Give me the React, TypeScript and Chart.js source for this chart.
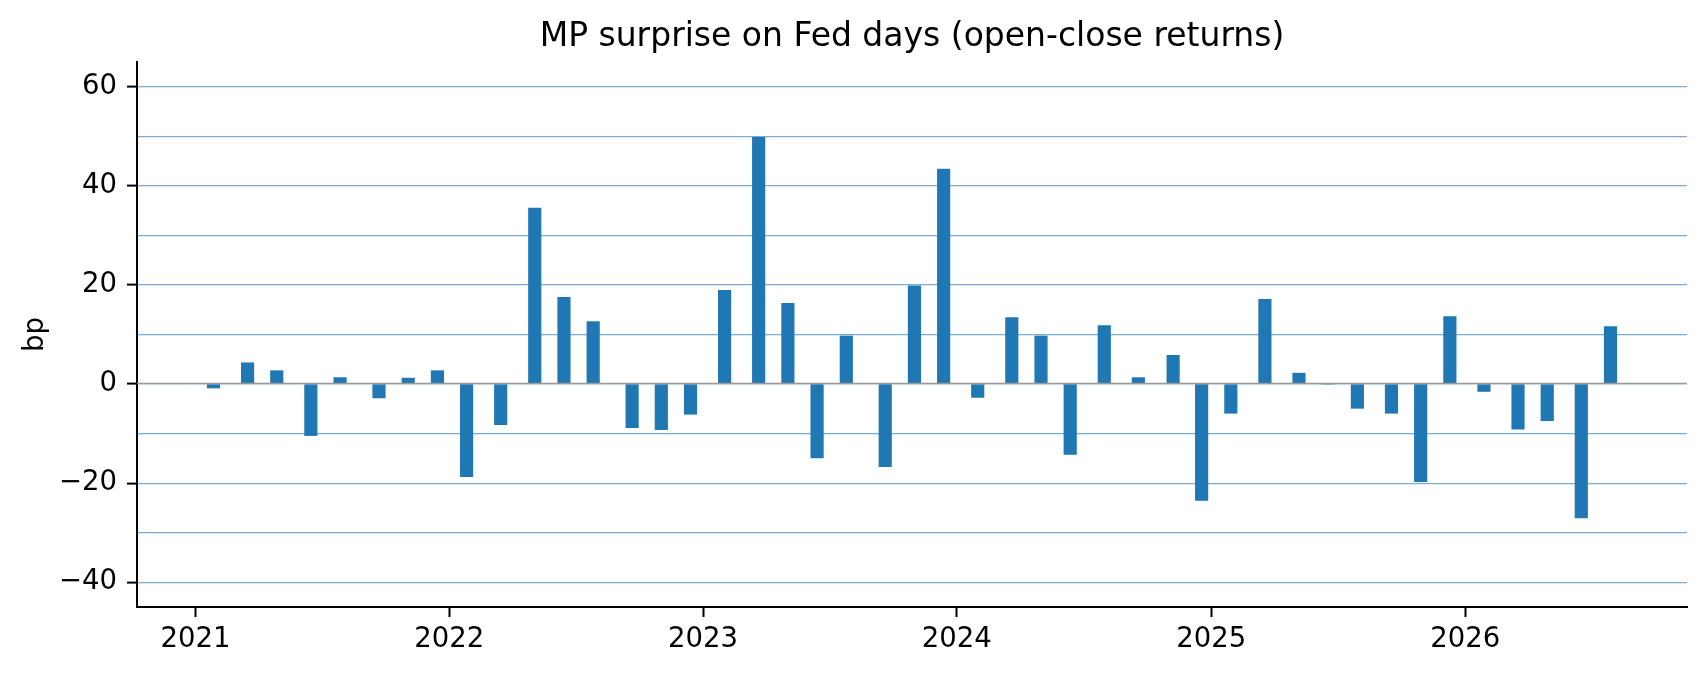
import React, { useEffect, useRef } from "react";
import { Chart, registerables, Plugin } from "chart.js";

Chart.register(...registerables);

const TITLE = "MP surprise on Fed days (open-close returns)";

// FOMC announcement days
const meetingDates: string[] = [
  "2021-01-27", "2021-03-17", "2021-04-28", "2021-06-16", "2021-07-28", "2021-09-22", "2021-11-03", "2021-12-15",
  "2022-01-26", "2022-03-16", "2022-05-04", "2022-06-15", "2022-07-27", "2022-09-21", "2022-11-02", "2022-12-14",
  "2023-02-01", "2023-03-22", "2023-05-03", "2023-06-14", "2023-07-26", "2023-09-20", "2023-11-01", "2023-12-13",
  "2024-01-31", "2024-03-20", "2024-05-01", "2024-06-12", "2024-07-31", "2024-09-18", "2024-11-07", "2024-12-18",
  "2025-01-29", "2025-03-19", "2025-05-07", "2025-06-18", "2025-07-30", "2025-09-17", "2025-10-29", "2025-12-10",
  "2026-01-28", "2026-03-18", "2026-04-29", "2026-06-17", "2026-07-29",
];

// open-close surprise, bp
const surpriseBp: number[] = [
  -0.8, 4.3, 2.7, -10.4, 1.3, -2.8, 1.2, 2.7,
  -18.7, -8.2, 35.5, 17.5, 12.6, -8.8, -9.2, -6.1,
  18.9, 49.8, 16.3, -14.9, 9.7, -16.7, 19.8, 43.4,
  -2.7, 13.4, 9.7, -14.2, 11.8, 1.3, 5.8, -23.5,
  -5.9, 17.1, 2.2, 0, -4.9, -5.9, -19.7, 13.6,
  -1.5, -9.1, -7.4, -27.0, 11.6,
];

const yearTicks: number[] = [2021, 2022, 2023, 2024, 2025, 2026];
// gridlines every 10, labels every 20
const yGridValues: number[] = [-40, -30, -20, -10, 0, 10, 20, 30, 40, 50, 60];

const X_MIN = Date.UTC(2020, 9, 9);
const X_MAX = Date.UTC(2026, 10, 16);
const Y_MIN = -45;
const Y_MAX = 65;

const GRID_BLUE = "#79add2";
const FONT = "'DejaVu Sans', sans-serif";

// gray zero line drawn on top of the bars
const zeroLine: Plugin<"bar"> = {
  id: "zeroLine",
  afterDatasetsDraw(chart) {
    const { ctx, chartArea, scales } = chart;
    const y = scales.y.getPixelForValue(0);
    ctx.save();
    ctx.strokeStyle = "#999999";
    ctx.lineWidth = 1.5;
    ctx.beginPath();
    ctx.moveTo(chartArea.left, y - 0.5);
    ctx.lineTo(chartArea.right, y - 0.5);
    ctx.stroke();
    ctx.restore();
  },
};

// title centred over the plot area (like matplotlib), not the canvas
const axesTitle: Plugin<"bar"> = {
  id: "axesTitle",
  afterDraw(chart) {
    const { ctx, chartArea } = chart;
    ctx.save();
    ctx.font = `normal 33px ${FONT}`;
    ctx.fillStyle = "#000";
    ctx.textAlign = "center";
    ctx.textBaseline = "middle";
    ctx.fillText(TITLE, (chartArea.left + chartArea.right) / 2, 37);
    ctx.restore();
  },
};

const fmt = (v: number) => (v < 0 ? "\u2212" + Math.abs(v) : String(v));

const App: React.FC = () => {
  const canvasRef = useRef<HTMLCanvasElement>(null);
  const chartRef = useRef<Chart<"bar"> | null>(null);

  useEffect(() => {
    if (!canvasRef.current) return;
    const ctx = canvasRef.current.getContext("2d");
    if (!ctx) return;

    if (chartRef.current) chartRef.current.destroy();

    Chart.defaults.font.family = FONT;
    Chart.defaults.color = "#000";

    const points = meetingDates.map((d, i) => ({ x: Date.parse(d), y: surpriseBp[i] }));

    chartRef.current = new Chart(ctx, {
      type: "bar",
      data: {
        datasets: [
          {
            data: points as any,
            backgroundColor: "#1f77b4",
            borderWidth: 0,
            barThickness: 12.5,
          },
        ],
      },
      options: {
        responsive: false,
        animation: false,
        layout: { padding: { left: 0, right: 20, top: 62, bottom: 0 } },
        plugins: {
          legend: { display: false },
          tooltip: { enabled: false },
          title: { display: false },
        },
        scales: {
          x: {
            type: "linear",
            min: X_MIN,
            max: X_MAX,
            offset: false,
            afterBuildTicks: (scale) => {
              scale.ticks = yearTicks.map((y) => ({ value: Date.UTC(y, 0, 1) }));
            },
            afterFit: (scale) => {
              scale.height = 67;
            },
            ticks: {
              font: { size: 27.5, lineHeight: 1.2 },
              color: "#000",
              padding: 6,
              maxRotation: 0,
              autoSkip: false,
              callback: (v) => String(new Date(Number(v)).getUTCFullYear()),
            },
            grid: {
              display: true,
              offset: false,
              drawOnChartArea: false,
              drawTicks: true,
              tickLength: 10,
              tickWidth: 2,
              tickColor: "#000",
            },
            border: { display: true, color: "#000", width: 2 },
          },
          y: {
            min: Y_MIN,
            max: Y_MAX,
            afterBuildTicks: (scale) => {
              scale.ticks = yGridValues.map((v) => ({ value: v }));
            },
            afterFit: (scale) => {
              scale.width = 137;
            },
            ticks: {
              font: { size: 27.5, lineHeight: 1.2 },
              color: "#000",
              padding: 10,
              autoSkip: false,
              callback: (v) => (Number(v) % 20 === 0 ? fmt(Number(v)) : ""),
            },
            grid: {
              color: GRID_BLUE,
              lineWidth: 1.2,
              drawTicks: true,
              tickLength: 10,
              tickWidth: 2,
              tickColor: (c: any) =>
                c.tick && c.tick.value % 20 === 0 ? "#000" : "rgba(0,0,0,0)",
            },
            border: { display: true, color: "#000", width: 2 },
            title: {
              display: true,
              text: "bp",
              font: { size: 27.5, lineHeight: 1.2 },
              color: "#000",
              padding: { top: 19, bottom: 0 },
            },
          },
        },
      },
      plugins: [zeroLine, axesTitle],
    });

    return () => {
      if (chartRef.current) {
        chartRef.current.destroy();
        chartRef.current = null;
      }
    };
  }, []);

  return (
    <div style={{ position: "fixed", left: 0, top: 0, width: 1707, height: 674, background: "#fff" }}>
      <canvas ref={canvasRef} width={1707} height={674} />
    </div>
  );
};

export default App;
